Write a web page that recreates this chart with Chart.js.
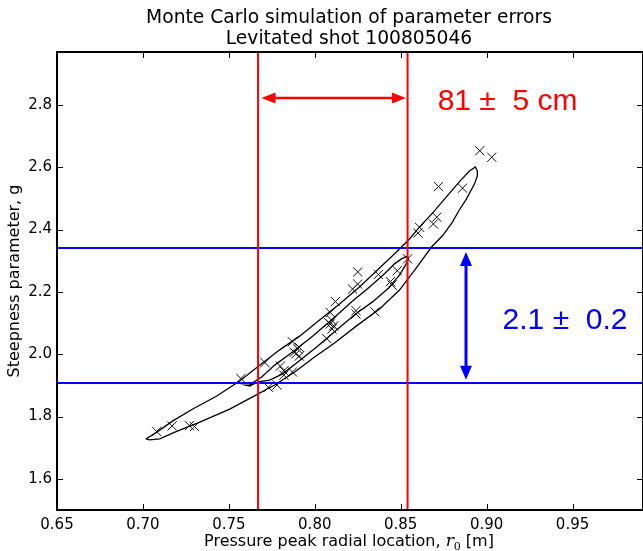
<!DOCTYPE html>
<html>
<head>
<meta charset="utf-8">
<script src="https://cdn.jsdelivr.net/npm/chart.js@4.4.1/dist/chart.umd.min.js"></script>
<style>
  html, body { margin: 0; padding: 0; background: #fff; }
  #wrap { width: 643px; height: 551px; position: relative; }
</style>
</head>
<body>
<div id="wrap"><canvas id="chart" width="643" height="551"></canvas></div>
<script>
// ----------------- Data -----------------

const xTicks = [0.65, 0.70, 0.75, 0.80, 0.85, 0.90, 0.95];
const yTicks = [1.6, 1.8, 2.0, 2.2, 2.4, 2.6, 2.8];
const xRange = [0.65, 0.991];
const yRange = [1.5, 2.97];

// Monte Carlo samples (r0 [m], g)
const sampleR0 = [0.896, 0.903, 0.872, 0.886, 0.871, 0.869, 0.861, 0.860, 0.854, 0.848,
  0.844, 0.845, 0.837, 0.825, 0.825, 0.822, 0.812, 0.809, 0.810, 0.809,
  0.811, 0.810, 0.808, 0.824, 0.824, 0.835, 0.807, 0.787, 0.790, 0.789,
  0.791, 0.788, 0.791, 0.780, 0.782, 0.787, 0.782, 0.771, 0.773, 0.778,
  0.757, 0.708, 0.717, 0.727, 0.730];
const sampleG = [2.653, 2.632, 2.538, 2.533, 2.440, 2.418, 2.407, 2.389, 2.306, 2.268,
  2.233, 2.222, 2.256, 2.264, 2.225, 2.209, 2.169, 2.134, 2.108, 2.097,
  2.091, 2.081, 2.102, 2.140, 2.129, 2.136, 2.050, 2.040, 2.017, 2.001,
  1.994, 2.006, 2.022, 1.962, 1.947, 1.943, 1.933, 1.973, 1.894, 1.901,
  1.922, 1.752, 1.770, 1.771, 1.768];

// outer confidence contour (closed)
const outerR0 = [0.7017, 0.7081, 0.7174, 0.7290, 0.7430, 0.7563, 0.7674, 0.7796, 0.7912, 0.8028,
  0.8144, 0.8260, 0.8377, 0.8475, 0.8551, 0.8609, 0.8685, 0.8766, 0.8841, 0.8900,
  0.8934, 0.8946, 0.8946, 0.8929, 0.8882, 0.8841, 0.8801, 0.8743, 0.8679, 0.8603,
  0.8493, 0.8377, 0.8243, 0.8115, 0.7999, 0.7883, 0.7767, 0.7668, 0.7505, 0.7331,
  0.7186, 0.7098, 0.7040, 0.7017];
const outerG = [1.728, 1.750, 1.786, 1.824, 1.866, 1.914, 1.962, 2.014, 2.058, 2.110,
  2.161, 2.216, 2.277, 2.328, 2.370, 2.408, 2.453, 2.505, 2.553, 2.588,
  2.601, 2.588, 2.572, 2.546, 2.498, 2.463, 2.424, 2.380, 2.344, 2.286,
  2.206, 2.145, 2.091, 2.036, 1.991, 1.943, 1.901, 1.872, 1.824, 1.782,
  1.750, 1.728, 1.725, 1.728];

// inner confidence contour (closed)
const innerR0 = [0.7621, 0.7645, 0.7691, 0.7767, 0.7871, 0.7987, 0.8104, 0.8220, 0.8319, 0.8406,
  0.8464, 0.8504, 0.8539, 0.8545, 0.8528, 0.8493, 0.8423, 0.8336, 0.8237, 0.8127,
  0.8011, 0.7894, 0.7813, 0.7738, 0.7668, 0.7621, 0.7598, 0.7621];
const innerG = [1.901, 1.911, 1.927, 1.965, 2.007, 2.058, 2.113, 2.171, 2.216, 2.258,
  2.290, 2.306, 2.315, 2.306, 2.286, 2.254, 2.209, 2.168, 2.129, 2.078,
  2.023, 1.972, 1.937, 1.917, 1.911, 1.898, 1.901, 1.901];

// error bands
const r0Band = [0.767, 0.854];
const gBand = [1.908, 2.341];
const r0ArrowG = 2.822;
const gArrowR0 = 0.888;
const r0Label = "81 \u00b1  5 cm";
const gLabel = "2.1 \u00b1  0.2";
const r0LabelPos = [0.8715, 2.785];
const gLabelPos = [0.9093, 2.081];

function pairs(xs, ys) {
  return xs.map((x, i) => ({ x, y: ys[i] }));
}

// ----------------- Plugins -----------------

function drawDoubleArrow(ctx, x1, y1, x2, y2, color, lw, headLen, headHalf) {
  const ang = Math.atan2(y2 - y1, x2 - x1);
  const c = Math.cos(ang), s = Math.sin(ang);
  ctx.save();
  ctx.strokeStyle = color;
  ctx.fillStyle = color;
  ctx.lineWidth = lw;
  ctx.beginPath();
  ctx.moveTo(x1 + c * headLen * 0.8, y1 + s * headLen * 0.8);
  ctx.lineTo(x2 - c * headLen * 0.8, y2 - s * headLen * 0.8);
  ctx.stroke();
  [[x1, y1, 1], [x2, y2, -1]].forEach(([px, py, d]) => {
    const bx = px + d * c * headLen, by = py + d * s * headLen;
    ctx.beginPath();
    ctx.moveTo(px, py);
    ctx.lineTo(bx - s * headHalf, by + c * headHalf);
    ctx.lineTo(bx + s * headHalf, by - c * headHalf);
    ctx.closePath();
    ctx.fill();
  });
  ctx.restore();
}

const decorPlugin = {
  id: "decor",
  afterDatasetsDraw(chart) {
    const { ctx, scales } = chart;
    const xs = scales.x, ys = scales.y;

    // r0 arrow + label
    drawDoubleArrow(ctx,
      xs.getPixelForValue(r0Band[0] + 0.002), ys.getPixelForValue(r0ArrowG),
      xs.getPixelForValue(r0Band[1] - 0.001), ys.getPixelForValue(r0ArrowG),
      "#ff0000", 2.5, 14, 5.5);
    // g arrow
    drawDoubleArrow(ctx,
      xs.getPixelForValue(gArrowR0), ys.getPixelForValue(gBand[1] - 0.013),
      xs.getPixelForValue(gArrowR0), ys.getPixelForValue(gBand[0] + 0.010),
      "#0000ff", 3, 14, 6);

    ctx.save();
    ctx.font = '30px "Liberation Sans", Arial, sans-serif';
    ctx.textBaseline = "alphabetic";
    ctx.textAlign = "left";
    ctx.fillStyle = "#ff0000";
    ctx.fillText(r0Label, xs.getPixelForValue(r0LabelPos[0]), ys.getPixelForValue(r0LabelPos[1]));
    ctx.fillStyle = "#0000ff";
    ctx.fillText(gLabel, xs.getPixelForValue(gLabelPos[0]), ys.getPixelForValue(gLabelPos[1]));
    ctx.restore();
  },
  afterDraw(chart) {
    const { ctx, chartArea: a, scales } = chart;
    ctx.save();
    // inward ticks on all four sides
    ctx.strokeStyle = "#000";
    ctx.lineWidth = 1;
    ctx.beginPath();
    xTicks.forEach((v) => {
      const px = Math.round(scales.x.getPixelForValue(v)) + 0.5;
      ctx.moveTo(px, a.bottom); ctx.lineTo(px, a.bottom - 6);
      ctx.moveTo(px, a.top); ctx.lineTo(px, a.top + 6);
    });
    yTicks.forEach((v) => {
      const py = Math.round(scales.y.getPixelForValue(v)) + 0.5;
      ctx.moveTo(a.left, py); ctx.lineTo(a.left + 6, py);
      ctx.moveTo(a.right, py); ctx.lineTo(a.right - 6, py);
    });
    ctx.stroke();
    // frame
    ctx.lineWidth = 2;
    ctx.strokeRect(a.left, a.top, a.right - a.left, a.bottom - a.top);

    // title
    const cx = 349;
    ctx.fillStyle = "#000";
    ctx.textAlign = "center";
    ctx.textBaseline = "middle";
    ctx.font = '18.7px "DejaVu Sans", sans-serif';
    ctx.fillText("Monte Carlo simulation of parameter errors", cx, 18);
    ctx.fillText("Levitated shot 100805046", cx, 39);

    // x axis label with italic r0
    const base = '16px "DejaVu Sans", sans-serif';
    const ital = 'italic 17px "DejaVu Serif", serif';
    const sub = '11px "DejaVu Serif", serif';
    const parts = [
      ["Pressure peak radial location, ", base, 0],
      ["r", ital, 0],
      ["0", sub, 4],
      [" [m]", base, 0],
    ];
    let total = 0;
    parts.forEach(([t, f]) => { ctx.font = f; total += ctx.measureText(t).width; });
    let x = cx - total / 2;
    ctx.textAlign = "left";
    ctx.textBaseline = "alphabetic";
    parts.forEach(([t, f, dy]) => {
      ctx.font = f;
      ctx.fillText(t, x, 546 + dy);
      x += ctx.measureText(t).width;
    });

    // y axis label
    ctx.translate(15, (a.top + a.bottom) / 2);
    ctx.rotate(-Math.PI / 2);
    ctx.textAlign = "center";
    ctx.textBaseline = "middle";
    ctx.font = base;
    ctx.fillText("Steepness parameter, g", 0, 0);
    ctx.restore();
  },
};

// ----------------- Chart -----------------

const lineDs = (label, data, color, width) => ({
  label,
  data,
  showLine: true,
  borderColor: color,
  borderWidth: width,
  pointRadius: 0,
  fill: false,
  tension: 0,
});

new Chart(document.getElementById("chart"), {
  type: "scatter",
  data: {
    datasets: [
      lineDs("r0 low", [{ x: r0Band[0], y: yRange[0] }, { x: r0Band[0], y: yRange[1] }], "#ff0000", 2),
      lineDs("r0 high", [{ x: r0Band[1], y: yRange[0] }, { x: r0Band[1], y: yRange[1] }], "#ff0000", 2),
      lineDs("g high", [{ x: xRange[0], y: gBand[1] }, { x: xRange[1], y: gBand[1] }], "#0000ff", 2),
      lineDs("g low", [{ x: xRange[0], y: gBand[0] }, { x: xRange[1], y: gBand[0] }], "#0000ff", 2),
      lineDs("outer contour", pairs(outerR0, outerG), "#000000", 1.3),
      lineDs("inner contour", pairs(innerR0, innerG), "#000000", 1.3),
      {
        label: "samples",
        data: pairs(sampleR0, sampleG),
        pointStyle: "crossRot",
        pointRadius: 6.5,
        pointBorderColor: "#111111",
        pointBorderWidth: 1,
        showLine: false,
      },
    ],
  },
  options: {
    responsive: false,
    animation: false,
    devicePixelRatio: 1,
    layout: { autoPadding: false, padding: { top: 52, right: -1, bottom: 0, left: 0 } },
    plugins: {
      legend: { display: false },
      tooltip: { enabled: false },
      title: { display: false },
    },
    scales: {
      x: {
        type: "linear",
        min: xRange[0],
        max: xRange[1],
        grid: { display: false, drawTicks: false },
        border: { display: false },
        afterBuildTicks: (s) => { s.ticks = xTicks.map((v) => ({ value: v })); },
        afterFit: (s) => { s.height = 41; s.paddingLeft = 0; s.paddingRight = 0; },
        ticks: {
          padding: 6,
          color: "#000",
          font: { family: "DejaVu Sans", size: 15 },
          maxRotation: 0,
          callback: (v) => Number(v).toFixed(2),
        },
      },
      y: {
        type: "linear",
        min: yRange[0],
        max: yRange[1],
        grid: { display: false, drawTicks: false },
        border: { display: false },
        afterBuildTicks: (s) => { s.ticks = yTicks.map((v) => ({ value: v })); },
        afterFit: (s) => { s.width = 57; s.paddingTop = 0; s.paddingBottom = 0; },
        ticks: {
          padding: 5,
          color: "#000",
          font: { family: "DejaVu Sans", size: 15 },
          callback: (v) => Number(v).toFixed(1),
        },
      },
    },
  },
  plugins: [decorPlugin],
});
</script>
</body>
</html>
